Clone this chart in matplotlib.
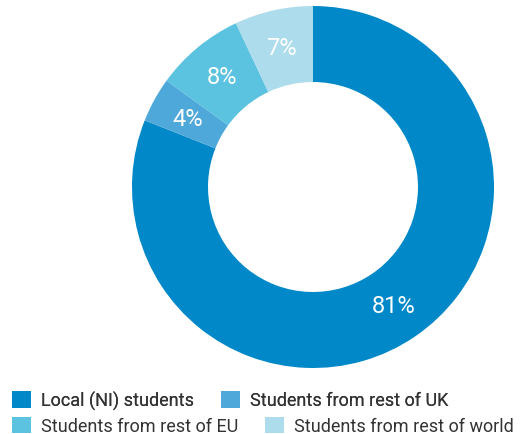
import matplotlib.pyplot as plt
from matplotlib.patches import Patch

labels = ["Local (NI) students", "Students from rest of UK",
          "Students from rest of EU", "Students from rest of world"]
shares = [81, 4, 8, 7]
colors = ["#0088c8", "#4fa8da", "#5bc2e0", "#addcec"]

plt.rcParams['font.family'] = ['Roboto', 'DejaVu Sans']

W, H = 525, 435
fig = plt.figure(figsize=(W / 100, H / 100), dpi=100)

# donut: centre (313, 188) px, radius 181 px
cx, cy, r = 313, 188, 181
ax = fig.add_axes([(cx - r) / W, (H - cy - r) / H, 2 * r / W, 2 * r / H])
wedges, texts = ax.pie(shares, colors=colors, startangle=90, counterclock=False,
                       radius=1, wedgeprops=dict(width=0.42, linewidth=0),
                       labels=[f"{s}%" for s in shares], labeldistance=0.79,
                       textprops=dict(color="white", fontsize=17,
                                      ha="center", va="center"))
ax.set_xlim(-1, 1)
ax.set_ylim(-1, 1)
ax.set_aspect("equal")
ax.axis("off")

handles = [Patch(facecolor=c, edgecolor="none") for c in colors]
leg_kw = dict(frameon=False, handlelength=1.05, handleheight=1.05, handletextpad=0.55,
              columnspacing=1.5, borderpad=0, borderaxespad=0,
              prop=dict(size=13), labelcolor="#333333", loc="center left")
leg1 = fig.legend(handles[:2], labels[:2], ncol=2,
                  bbox_to_anchor=(12 / W, 1 - 401 / H), **leg_kw)
fig.add_artist(leg1)
fig.legend(handles[2:], labels[2:], ncol=2,
           bbox_to_anchor=(12 / W, 1 - 427 / H), **leg_kw)

fig.savefig("out.png", dpi=100)
